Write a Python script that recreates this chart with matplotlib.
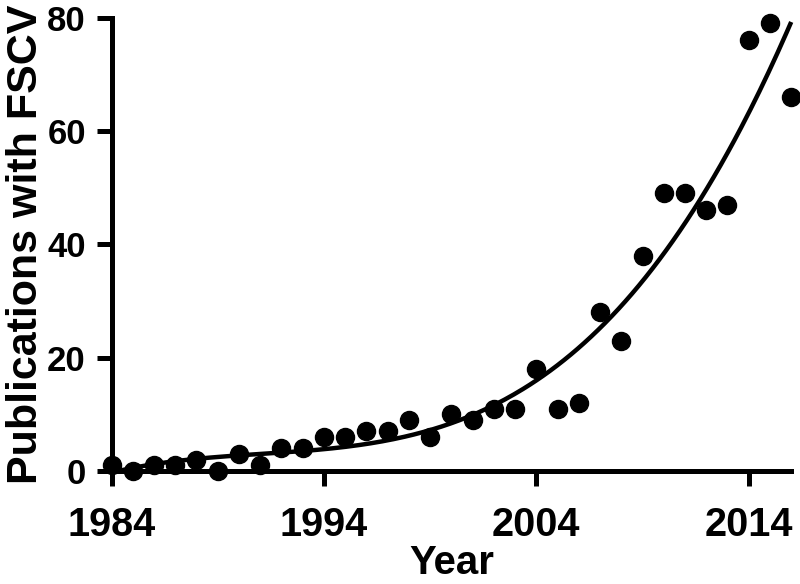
import numpy as np
import matplotlib
matplotlib.use("Agg")
import matplotlib.pyplot as plt

years = list(range(1984, 2017))
pubs = [1, 0, 1, 1, 2, 0, 3, 1, 4, 4, 6, 6, 7, 7, 9, 6, 10, 9, 11, 11,
        18, 11, 12, 28, 23, 38, 49, 49, 46, 47, 76, 79, 66]
xticks = [1984, 1994, 2004, 2014]
yticks = [0, 20, 40, 60, 80]

plt.rcParams['font.family'] = ['Liberation Sans', 'DejaVu Sans']
plt.rcParams['font.weight'] = 'bold'

x = np.array(years, dtype=float)
y = np.array(pubs, dtype=float)
t = x - years[0]

# least-squares trend curve through the data
coef = np.polyfit(t, y, 3)
xf = np.linspace(years[0], years[-1], 300)
yf = np.polyval(coef, xf - years[0])

fig = plt.figure(figsize=(8, 5.84), dpi=100)
ax = fig.add_axes([0.1394, 0.1935, 0.989 - 0.1394, 0.970 - 0.1935])
ax.plot(xf, yf, color='black', lw=3.2, zorder=2, clip_on=False,
        solid_capstyle='butt')
ax.plot(x, y, 'o', color='black', ms=13, zorder=3, clip_on=False)

ax.set_xlim(1984, 2016)
ax.set_ylim(0, 80)
ax.set_xticks(xticks)
ax.set_yticks(yticks)
for s in ['top', 'right']:
    ax.spines[s].set_visible(False)
for s in ['left', 'bottom']:
    ax.spines[s].set_linewidth(3.6)
ax.tick_params(axis='both', direction='out', length=11, width=3.6)
ax.tick_params(axis='x', labelsize=28.5, pad=14)
ax.tick_params(axis='y', labelsize=25, pad=7.5)
ax.set_xlabel('Year', fontsize=29, fontweight='bold', labelpad=0)
ax.set_ylabel('Publications with FSCV', fontsize=31, fontweight='bold', labelpad=1)

fig.savefig('out.png', dpi=100)
